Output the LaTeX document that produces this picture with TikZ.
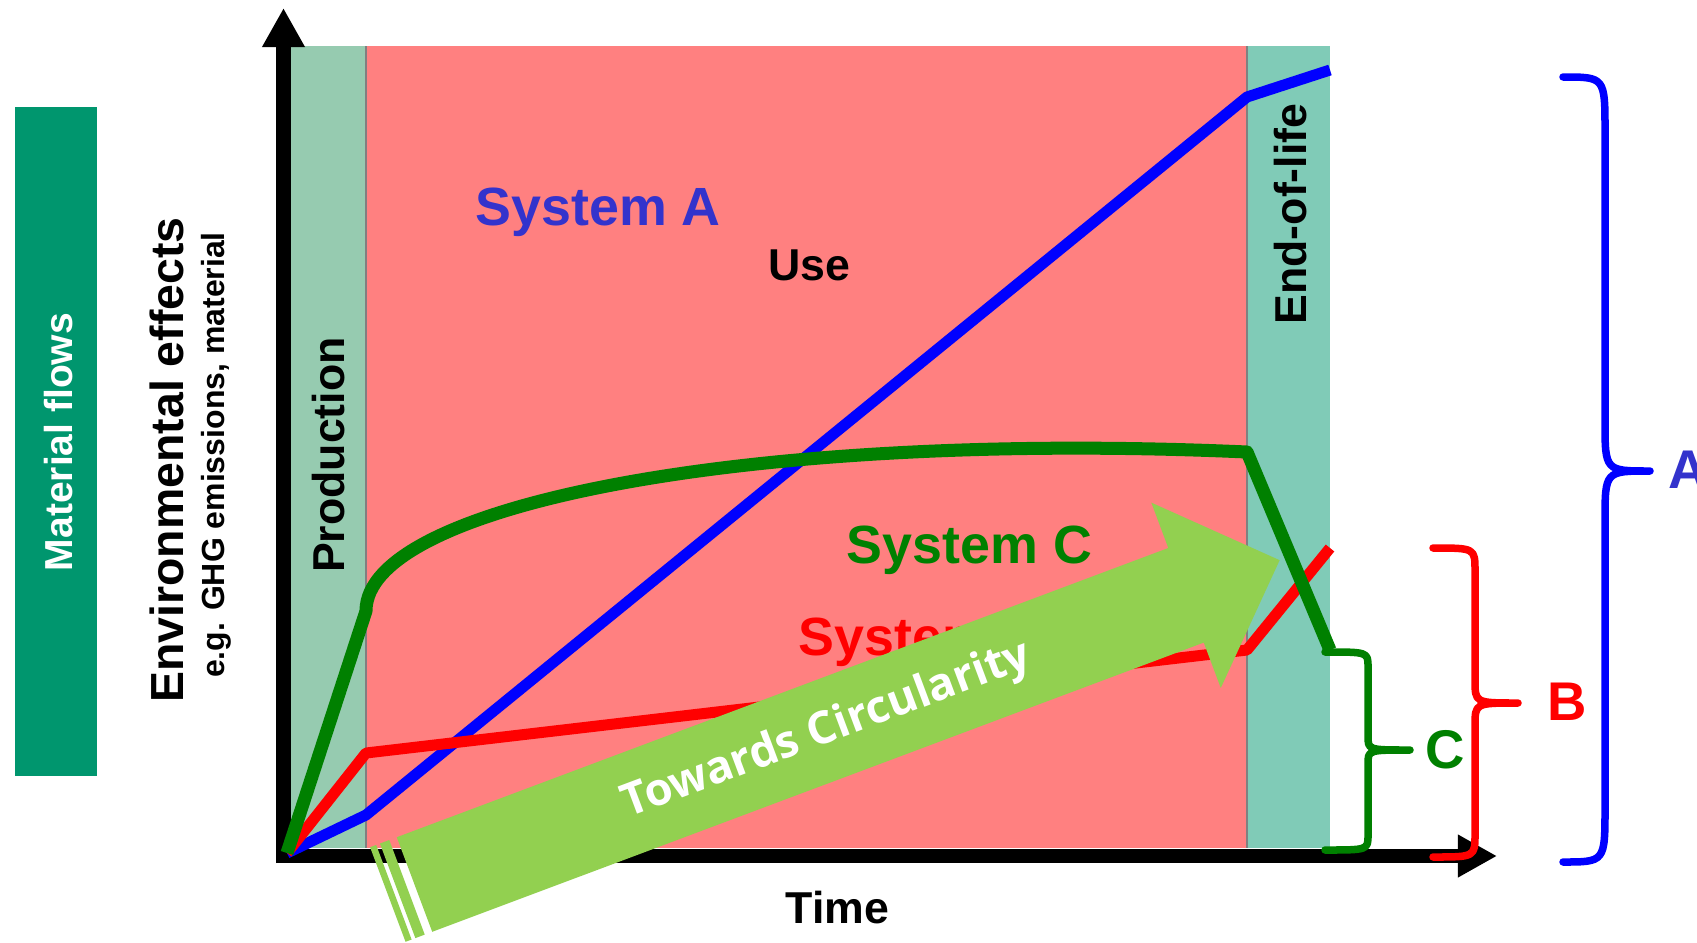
\documentclass[tikz,border=0pt]{standalone}
\usepackage{fontspec}
\setmainfont{Liberation Sans}
\newfontfamily\osans{Open Sans}
\usetikzlibrary{arrows.meta}
\definecolor{pinkband}{HTML}{FF8080}
\definecolor{prodband}{HTML}{96CBB0}
\definecolor{eolband}{HTML}{80CBB7}
\definecolor{mfbox}{HTML}{00966E}
\definecolor{sysA}{HTML}{3333CC}
\definecolor{gline}{HTML}{008000}
\definecolor{arrowgreen}{HTML}{92D050}
\newcommand{\bracepathx}[8]{(#1,#4) .. controls (#2,#4) .. (#2,#4+#7) -- (#2,#5-#8) .. controls (#2,#5) .. (#3,#5) .. controls (#2,#5) .. (#2,#5+#8) -- (#2,#6-#7) .. controls (#2,#6) .. (#1,#6)}
\begin{document}
\begin{tikzpicture}[x=0.01cm,y=-0.01cm,
  systxt/.style={inner sep=0pt, anchor=base west, font=\fontsize{15.3}{18}\selectfont\bfseries},
  phasetxt/.style={inner sep=0pt, font=\fontsize{12.7}{15}\selectfont\bfseries},
  vtxt/.style={inner sep=0pt, anchor=base, rotate=90},
  sysline/.style={line width=0.11cm, line join=round},
  axisline/.style={line width=0.14cm, -{Triangle[length=0.39cm,width=0.40cm]}},
  bracestyle/.style={line width=0.075cm, line cap=round, line join=round},
  bracelbl/.style={inner sep=0pt, anchor=base west, font=\fontsize{15.5}{18}\selectfont\bfseries}]
\useasboundingbox (0,0) rectangle (1697,942);
\clip (0,0) rectangle (1697,942);

% phase bands
\fill[prodband] (290,46) rectangle (366,848);
\fill[pinkband] (366,46) rectangle (1247,848);
\fill[eolband] (1247,46) rectangle (1330,848);
\draw[gray, line width=0.015cm] (366,46) -- (366,848);
\draw[gray, line width=0.015cm] (1247,46) -- (1247,848);

% material flows box
\fill[mfbox] (15,107) rectangle (97,776);
\node[vtxt, text=white, font=\fontsize{11.1}{13}\selectfont\bfseries] (mf) at (72,442) {Material flows};

% axis titles
\node[vtxt, font=\fontsize{13.2}{15}\selectfont\bfseries] (env) at (183,460) {Environmental effects};
\node[vtxt, font=\fontsize{9.1}{11}\selectfont\bfseries] (eg) at (224,455) {e.g. GHG emissions, material};
\node[phasetxt, anchor=base west] (time) at (785,923) {Time};

% phase labels
\node[phasetxt, vtxt] (prod) at (344,455) {Production};
\node[phasetxt, vtxt] (eol) at (1306,214) {End-of-life};
\node[phasetxt, anchor=base west] (use) at (768,280) {Use};

% system labels
\node[systxt, text=sysA] (sa) at (475,225) {System A};
\node[systxt, text=gline] (sc) at (846,563) {System C};
\node[systxt, text=red] (sb) at (798,655) {System B};

% axes
\draw[axisline] (283.5,863) -- (283.5,8);
\draw[axisline] (277,856) -- (1497,856);

% system curves
\coordinate (O) at (287,853);
\draw[sysline, blue] (O) -- (366,815) -- (1247,97) -- (1330,70);
\draw[sysline, red] (O) -- (366,753) -- (1247,650) -- (1330,548);
\draw[sysline, gline, line width=0.13cm] (O) -- (366,611) .. controls (366,505) and (750,430) .. (1247,452) -- (1330,650);

% towards circularity arrow
\begin{scope}[shift={(414.5,884.5)}, rotate=20.55]
  \fill[arrowgreen] (0,-50.5) -- (824,-50.5) -- (824,-99) -- (924,0) -- (824,99) -- (824,50.5) -- (0,50.5) -- cycle;
  \fill[arrowgreen] (-18,-50.5) rectangle (-8,50.5);
  \fill[arrowgreen] (-28.5,-50.5) rectangle (-22,50.5);
\end{scope}
\node[rotate=20.55, inner sep=0pt, text=white, font={\osans\fontsize{12.8}{15}\selectfont\bfseries}] (tc) at (827,731) {Towards Circularity};

% braces
\draw[bracestyle, gline] \bracepathx{1325}{1368}{1410}{652}{750}{850}{15}{14};
\draw[bracestyle, red] \bracepathx{1433}{1475}{1518}{548}{703}{857}{23}{23};
\draw[bracestyle, blue] \bracepathx{1563}{1605}{1650}{77}{471}{862}{55}{50};
\node[bracelbl, text=gline] (lc) at (1425,768) {C};
\node[bracelbl, text=red] (lb) at (1547,720) {B};
\node[bracelbl, text=sysA] (la) at (1668,488) {A};
\end{tikzpicture}
\end{document}
